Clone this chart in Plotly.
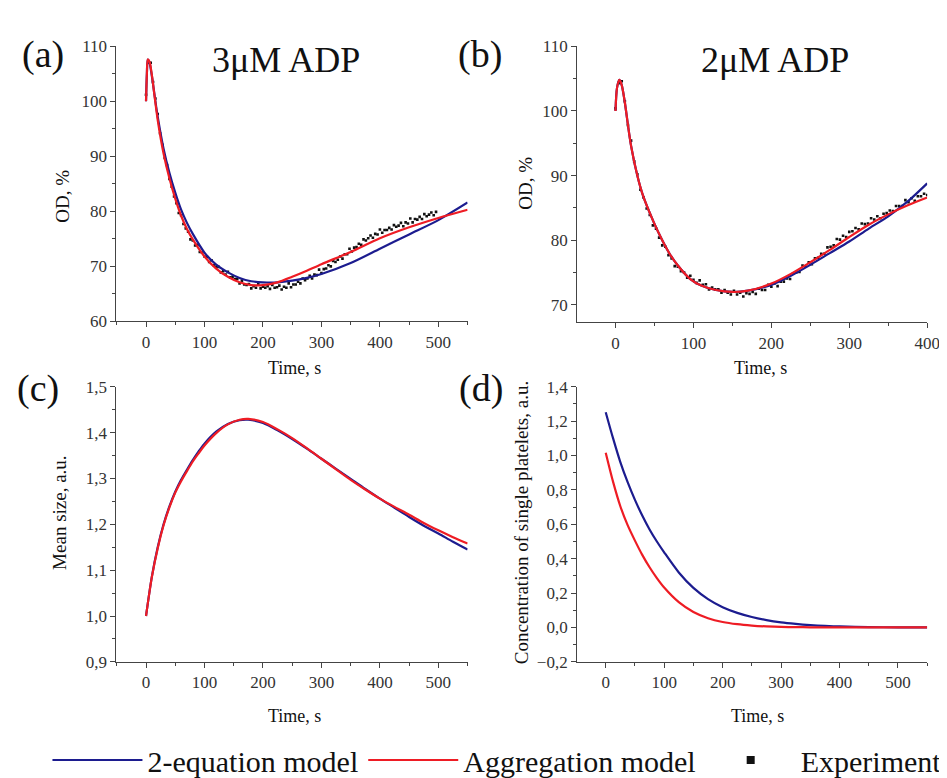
import plotly.graph_objects as go

# ---------------- data ----------------
# Panel (a) 3 uM ADP
A_RED_T = [0, 1.5, 3, 6, 10, 15, 20, 30, 40, 50, 60, 70, 80, 100, 120, 140, 160, 180, 200, 225, 250, 275, 300, 350, 400, 450, 500, 550]
A_RED_Y = [100, 105, 107.6, 107.2, 104.8, 100.6, 96.6, 90.5, 86.0, 82.3, 79.2, 76.8, 74.9, 71.8, 69.6, 68.1, 67.1, 66.6, 66.6, 67.1, 68.1, 69.2, 70.4, 72.6, 75.1, 77.1, 78.8, 80.3]
A_BLUE_T = [0, 1.5, 3, 6, 10, 15, 20, 30, 40, 50, 60, 70, 80, 100, 120, 140, 160, 180, 200, 225, 250, 275, 300, 350, 400, 450, 500, 550]
A_BLUE_Y = [100, 105, 107.6, 107.0, 104.6, 100.8, 97.2, 91.4, 87.0, 83.4, 80.3, 77.9, 75.9, 72.5, 70.3, 68.9, 67.9, 67.3, 67.1, 67.1, 67.4, 67.9, 68.6, 70.6, 73.2, 75.8, 78.4, 81.6]
A_EXP_T = list(range(0, 500, 4))
A_EXP_Y = [101.2, 107.0, 107.0, 103.5, 100.5, 97.7, 94.2, 92.1, 89.7, 88.4,
           85.9, 84.5, 82.7, 81.5, 79.7, 79.3, 77.7, 76.9, 76.3, 74.9,
           74.7, 73.8, 73.9, 72.6, 72.5, 71.8, 71.7, 70.8, 71.1, 70.2,
           69.9, 69.9, 68.9, 69.1, 68.5, 69.0, 68.0, 68.1, 67.7, 67.7,
           66.9, 67.4, 66.7, 66.6, 66.8, 66.0, 66.4, 66.1, 66.8, 66.0,
           66.3, 66.1, 66.4, 65.9, 66.6, 66.1, 66.2, 66.5, 65.8, 66.3,
           66.1, 66.9, 66.2, 66.7, 66.7, 67.2, 66.9, 67.8, 67.5, 67.8,
           68.3, 67.8, 68.5, 68.4, 69.4, 68.8, 69.5, 69.6, 70.2, 70.0,
           71.0, 70.8, 71.2, 71.8, 71.4, 72.2, 72.2, 73.2, 72.7, 73.4,
           73.5, 74.1, 73.9, 74.9, 74.7, 75.1, 75.6, 75.2, 75.9, 75.8,
           76.7, 76.1, 76.6, 76.6, 77.0, 76.7, 77.5, 77.2, 77.4, 77.9,
           77.3, 78.0, 77.8, 78.7, 78.0, 78.6, 78.5, 79.0, 78.6, 79.5,
           79.1, 79.4, 79.8, 79.3, 79.9]

# Panel (b) 2 uM ADP
B_RED_T = [0, 2, 5, 8, 12, 16, 20, 28, 35, 49, 60, 70, 80, 96, 110, 129, 150, 170, 200, 225, 250, 275, 300, 325, 350, 375, 400]
B_RED_Y = [100, 103.6, 104.8, 104.0, 101.3, 97.8, 94.6, 90.0, 87.0, 82.8, 80.0, 77.8, 76.1, 74.0, 73.0, 72.3, 72.0, 72.2, 73.3, 74.8, 76.6, 78.5, 80.5, 82.4, 84.0, 85.4, 86.6]
B_BLUE_T = [0, 2, 5, 8, 12, 16, 20, 28, 35, 49, 60, 70, 80, 96, 110, 129, 150, 170, 200, 225, 250, 275, 300, 325, 350, 375, 400]
B_BLUE_Y = [100, 103.6, 104.8, 104.0, 101.3, 97.8, 94.6, 90.0, 87.0, 82.8, 80.0, 77.8, 76.1, 74.0, 73.0, 72.3, 72.0, 72.2, 73.1, 74.5, 76.2, 78.0, 79.8, 81.8, 83.7, 86.0, 88.8]
B_EXP_T = list(range(0, 404, 4))
B_EXP_Y = [100.4, 104.3, 104.6, 101.5, 97.8, 95.4, 92.2, 90.2, 87.8, 86.6,
           84.9, 83.9, 82.3, 81.8, 80.4, 79.2, 79.0, 77.7, 77.2, 76.0,
           75.9, 75.2, 75.0, 74.2, 74.5, 73.9, 73.4, 73.8, 73.1, 73.2,
           72.4, 72.7, 72.4, 72.4, 71.9, 72.3, 71.9, 71.6, 72.2, 71.6,
           71.9, 71.3, 71.8, 71.7, 72.0, 71.7, 72.5, 72.3, 72.3, 73.1,
           72.8, 73.3, 72.9, 73.6, 73.6, 74.1, 74.0, 74.9, 75.0, 75.1,
           76.1, 75.9, 76.6, 76.3, 77.2, 77.3, 77.9, 77.9, 78.9, 79.0,
           79.2, 80.2, 80.1, 80.7, 80.5, 81.3, 81.4, 81.9, 81.7, 82.6,
           82.5, 82.6, 83.4, 83.2, 83.7, 83.4, 84.1, 84.2, 84.6, 84.5,
           85.3, 85.3, 85.3, 86.2, 85.9, 86.5, 86.1, 86.8, 86.8, 87.2,
           87.0]

# Panel (c) mean size
C_T = [0, 10, 20, 30, 40, 50, 60, 70, 80, 90, 100, 120, 140, 160, 175, 200, 225, 250, 275, 300, 325, 350, 375, 400, 425, 450, 475, 500, 525, 550]
C_RED_Y = [1.0, 1.085, 1.148, 1.198, 1.237, 1.269, 1.294, 1.316, 1.337, 1.355, 1.372, 1.399, 1.418, 1.428, 1.430, 1.423, 1.407, 1.388, 1.366, 1.343, 1.320, 1.297, 1.276, 1.256, 1.238, 1.221, 1.203, 1.187, 1.172, 1.158]
C_BLUE_Y = [1.0, 1.086, 1.150, 1.200, 1.239, 1.271, 1.297, 1.319, 1.340, 1.359, 1.376, 1.402, 1.419, 1.427, 1.428, 1.421, 1.405, 1.386, 1.365, 1.343, 1.321, 1.299, 1.277, 1.256, 1.236, 1.216, 1.197, 1.180, 1.162, 1.145]

# Panel (d) concentration of single platelets
D_T = [0, 12.5, 25, 37.5, 50, 62.5, 75, 87.5, 100, 125, 150, 175, 200, 225, 250, 275, 300, 325, 350, 375, 400, 450, 500, 550]
D_BLUE_Y = [1.252, 1.101, 0.962, 0.845, 0.742, 0.651, 0.570, 0.500, 0.437, 0.320, 0.230, 0.165, 0.118, 0.085, 0.061, 0.043, 0.030, 0.021, 0.014, 0.009, 0.006, 0.002, 0.001, 0.0]
D_RED_Y = [1.016, 0.848, 0.705, 0.595, 0.505, 0.422, 0.350, 0.287, 0.232, 0.147, 0.090, 0.054, 0.032, 0.019, 0.011, 0.006, 0.003, 0.002, 0.001, 0.0, 0.0, 0.0, 0.0, 0.0]

NAMES = ["2-equation model", "Aggregation model", "Experiment"]
BLUE = "#1c1c8f"
RED = "#ee1c24"
BLACK = "#111111"

W, H = 947, 778
FONT = "Liberation Serif, Times New Roman, serif"

def px(x):
    return x / W

def py(y):
    return 1 - y / H

fig = go.Figure()

def model(t, y, color, xa, ya, name, show=False):
    fig.add_trace(go.Scatter(x=t, y=y, mode="lines", line=dict(color=color, width=2.2, shape="spline", smoothing=0.8),
                             xaxis=xa, yaxis=ya, name=name, showlegend=show, hoverinfo="skip"))

def exp(t, y, xa, ya):
    fig.add_trace(go.Scatter(x=t, y=y, mode="markers", marker=dict(color=BLACK, size=2.6, symbol="square"),
                             xaxis=xa, yaxis=ya, name=NAMES[2], showlegend=False))

# (a)
exp(A_EXP_T, A_EXP_Y, "x", "y")
model(A_BLUE_T, A_BLUE_Y, BLUE, "x", "y", NAMES[0], True)
model(A_RED_T, A_RED_Y, RED, "x", "y", NAMES[1], True)
# (b)
exp(B_EXP_T, B_EXP_Y, "x2", "y2")
model(B_BLUE_T, B_BLUE_Y, BLUE, "x2", "y2", NAMES[0])
model(B_RED_T, B_RED_Y, RED, "x2", "y2", NAMES[1])
# (c)
model(C_T, C_BLUE_Y, BLUE, "x3", "y3", NAMES[0])
model(C_T, C_RED_Y, RED, "x3", "y3", NAMES[1])
# (d)
model(D_T, D_BLUE_Y, BLUE, "x4", "y4", NAMES[0])
model(D_T, D_RED_Y, RED, "x4", "y4", NAMES[1])
# legend entry for experiment
fig.add_trace(go.Scatter(x=[None], y=[None], mode="markers", marker=dict(color=BLACK, size=8, symbol="square"),
                         name=NAMES[2], showlegend=True, xaxis="x", yaxis="y"))

axis_common = dict(showline=True, linecolor="#444", linewidth=1, ticks="outside", ticklen=5, tickwidth=1,
                   tickcolor="#444", showgrid=False, zeroline=False,
                   tickfont=dict(family=FONT, size=17, color="#333"), mirror=False)

def xax(dom, rng, anchor):
    return dict(axis_common, domain=dom, range=rng, anchor=anchor, tickmode="linear", tick0=0, dtick=100,
                minor=dict(ticks="outside", ticklen=3, tickcolor="#444", dtick=50, tick0=0, showgrid=False))

def yax(dom, rng, anchor, dt, t0, fmt=None):
    d = dict(axis_common, domain=dom, range=rng, anchor=anchor, tickmode="linear", tick0=t0, dtick=dt,
             minor=dict(ticks="outside", ticklen=3, tickcolor="#444", dtick=dt / 2, tick0=t0, showgrid=False))
    if fmt:
        d["tickformat"] = fmt
    return d

xl = [px(110), px(466)]
xr = [px(577), px(932)]
yb = [py(661), py(379)]

fig.update_layout(
    width=W, height=H, margin=dict(l=0, r=0, t=0, b=0),
    paper_bgcolor="white", plot_bgcolor="white",
    separators=", ",
    font=dict(family=FONT, color="#222"),
    xaxis=xax(xl, [-50.5, 550], "y"),
    yaxis=yax([py(312), py(30)], [60, 110], "x", 10, 60),
    xaxis2=xax(xr, [-49.3, 400], "y2"),
    yaxis2=yax([py(313), py(30)], [67.3, 110], "x2", 10, 70),
    xaxis3=xax(xl, [-50.5, 550], "y3"),
    yaxis3=yax(yb, [0.9, 1.5], "x3", 0.1, 0.9, ".1f"),
    xaxis4=xax(xr, [-49, 550], "y4"),
    yaxis4=yax(yb, [-0.2, 1.4], "x4", 0.2, -0.2, ".1f"),
    legend=dict(orientation="h", x=px(40), y=py(762), xanchor="left", yanchor="middle",
                font=dict(family=FONT, size=30, color="#111"), itemwidth=90, bgcolor="rgba(0,0,0,0)",
                traceorder="normal"),
    showlegend=True,
)

def ann(text, x, y, size, angle=0):
    fig.add_annotation(text=text, x=px(x), y=py(y), xref="paper", yref="paper", showarrow=False,
                       font=dict(family=FONT, size=size, color="#111"), textangle=angle,
                       xanchor="center", yanchor="middle")

ann("(a)", 35, 38, 38)
ann("3μM ADP", 282, 44, 36)
ann("(b)", 479, 38, 38)
ann("2μM ADP", 778, 44, 36)
ann("(c)", 30, 381, 38)
ann("(d)", 480, 381, 38)
ann("Time, s", 290, 360, 18)
ann("Time, s", 763, 360, 18)
ann("Time, s", 290, 717, 18)
ann("Time, s", 760, 717, 18)
ann("OD, %", 55, 184, 19, -90)
ann("OD, %", 525, 170, 19, -90)
ann("Mean size, a.u.", 52, 508, 19, -90)
ann("Concentration of single platelets, a.u.", 520, 518, 19, -90)

fig.write_html("out.html")
